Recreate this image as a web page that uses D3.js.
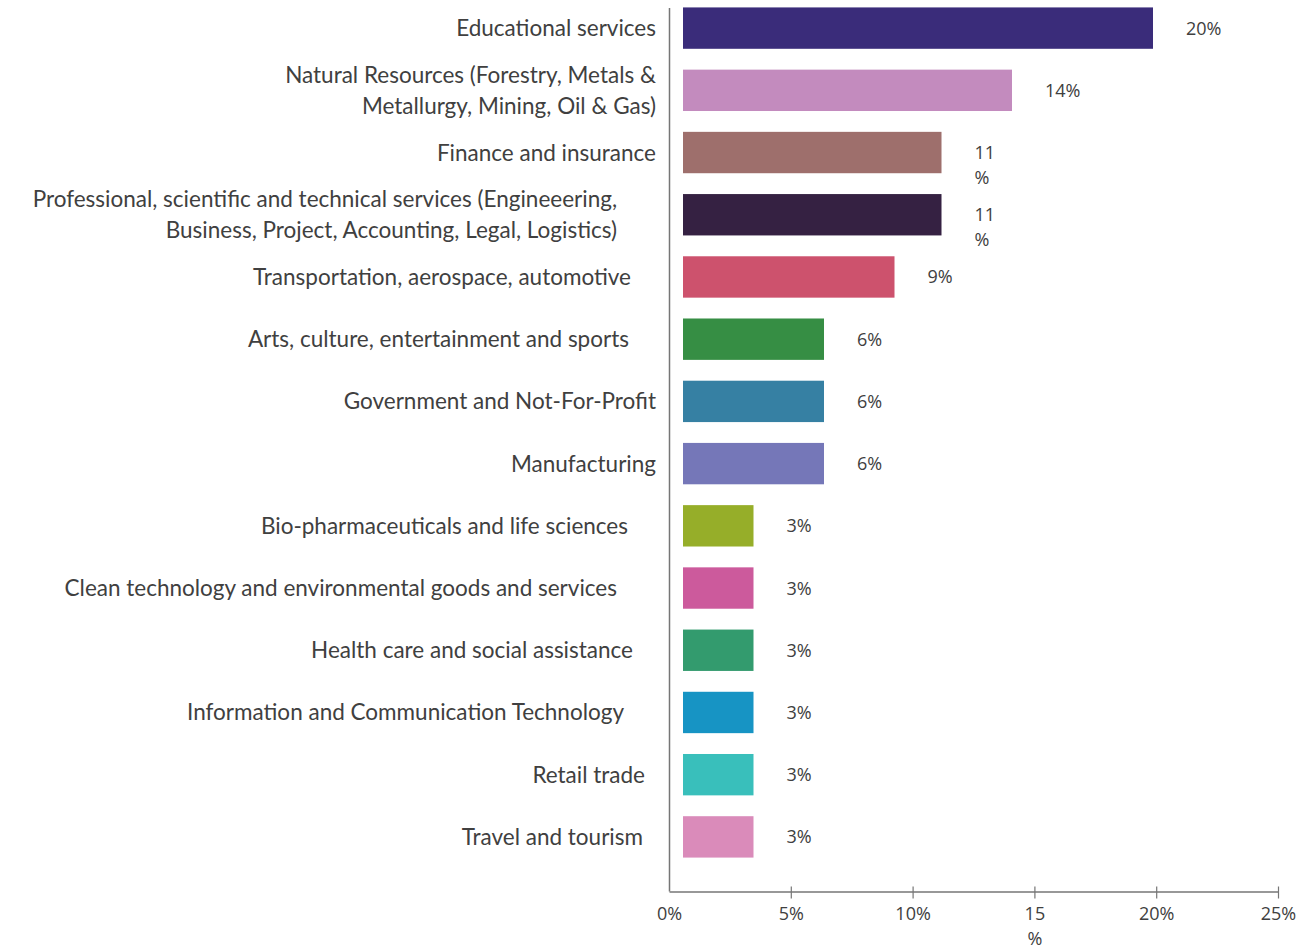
<!DOCTYPE html>
<html>
<head>
<meta charset="utf-8">
<script src="https://cdn.jsdelivr.net/npm/d3@7"></script>
<style>
  html, body { margin: 0; padding: 0; background: #ffffff; }
  svg { display: block; }
</style>
</head>
<body>
<svg id="chart" width="1302" height="951"></svg>
<script>
// Share of respondents by sector
const categories = [
  "Educational services",
  "Natural Resources (Forestry, Metals &\nMetallurgy, Mining, Oil & Gas)",
  "Finance and insurance",
  "Professional, scientific and technical services (Engineeering,\nBusiness, Project, Accounting, Legal, Logistics)",
  "Transportation, aerospace, automotive",
  "Arts, culture, entertainment and sports",
  "Government and Not-For-Profit",
  "Manufacturing",
  "Bio-pharmaceuticals and life sciences",
  "Clean technology and environmental goods and services",
  "Health care and social assistance",
  "Information and Communication Technology",
  "Retail trade",
  "Travel and tourism"
];
const values = [20, 14, 11, 11, 9, 6, 6, 6, 3, 3, 3, 3, 3, 3];
const valueLabels = ["20%", "14%", "11\n%", "11\n%", "9%", "6%", "6%", "6%", "3%", "3%", "3%", "3%", "3%", "3%"];
const barColors = [
  "#3a2c7a", "#c38bbe", "#9e6f6c", "#352142", "#cd526d", "#368e44", "#3680a3",
  "#7577b8", "#96ae29", "#cc5a9c", "#339b6e", "#1794c4", "#39bfbb", "#da8bba"
];
const tickValues = [0, 5, 10, 15, 20, 25];
const tickLabels = ["0%", "5%", "10%", "15\n%", "20%", "25%"];

// layout: how far each category label sits in from the label column's right edge
const labelInset = [0, 0, 0, 39, 25, 27, 0, 0, 28, 39, 23, 32, 11, 13];

const svg = d3.select("#chart");
const textColor = "#404040";
const axisColor = "#767676";
const catFont = "Lato, 'Open Sans', sans-serif";
const numFont = "'Open Sans', 'Noto Sans', sans-serif";

const axisX0 = 669, axisX1 = 1278, axisY = 891.5, axisTop = 8;
const labelRight = 656;

// axis scale and bar-length scale (bars begin a little right of the axis line)
const x = d3.scaleLinear().domain([0, 25]).range([axisX0, axisX1]);
const xb = d3.scaleLinear().domain([0, 25]).range([683, 1270.5]);

const y = d3.scaleBand()
  .domain(d3.range(categories.length))
  .range([-3, 868])
  .paddingInner(0.335)
  .paddingOuter(0.1675);

// bars
svg.append("g").selectAll("rect")
  .data(values)
  .join("rect")
  .attr("x", xb(0))
  .attr("y", (d, i) => y(i))
  .attr("width", d => xb(d) - xb(0))
  .attr("height", y.bandwidth())
  .attr("fill", (d, i) => barColors[i]);

// value labels
const vl = svg.append("g")
  .attr("font-family", numFont)
  .attr("font-size", 18)
  .attr("fill", textColor)
  .selectAll("text")
  .data(values)
  .join("text")
  .attr("x", d => xb(d) + 33)
  .attr("y", (d, i) => y(i) + y.bandwidth() / 2 + 6.5);
vl.each(function (d, i) {
  const lines = valueLabels[i].split("\n");
  d3.select(this).selectAll("tspan")
    .data(lines)
    .join("tspan")
    .attr("x", xb(d) + 33)
    .attr("dy", (l, k) => (k === 0 ? 0 : 25))
    .text(l => l);
});

// category labels
const cl = svg.append("g")
  .attr("font-family", catFont)
  .attr("font-size", 22.5)
  .attr("fill", textColor)
  .attr("text-anchor", "end")
  .selectAll("text")
  .data(categories)
  .join("text")
  .attr("x", (d, i) => labelRight - labelInset[i]);
cl.each(function (d, i) {
  const lines = d.split("\n");
  const lh = 31;
  const cy = y(i) + y.bandwidth() / 2;
  const first = cy - (lines.length - 1) * lh / 2 + 8;
  d3.select(this).attr("y", first);
  d3.select(this).selectAll("tspan")
    .data(lines)
    .join("tspan")
    .attr("x", labelRight - labelInset[i])
    .attr("dy", (l, k) => (k === 0 ? 0 : lh))
    .text(l => l);
});

// vertical axis line
svg.append("line")
  .attr("x1", axisX0 + 0.5).attr("x2", axisX0 + 0.5)
  .attr("y1", axisTop).attr("y2", axisY)
  .attr("stroke", axisColor).attr("stroke-width", 1.5);

// horizontal value axis
const xAxis = d3.axisBottom(x)
  .tickValues(tickValues)
  .tickSizeInner(7)
  .tickSizeOuter(0)
  .tickFormat((d, i) => tickLabels[i]);

const gx = svg.append("g")
  .attr("transform", `translate(0,${axisY})`)
  .call(xAxis);
gx.select(".domain").attr("stroke", axisColor).attr("stroke-width", 1.5);
gx.selectAll(".tick line")
  .attr("y1", -5).attr("y2", 7)
  .attr("stroke", axisColor).attr("stroke-width", 1.2)
  .filter(d => d === 0).remove();
gx.selectAll(".tick text").each(function (d, i) {
  const t = d3.select(this);
  const lines = tickLabels[i].split("\n");
  t.text(null)
    .attr("y", 28.5).attr("dy", null)
    .attr("font-family", numFont)
    .attr("font-size", 18)
    .attr("fill", textColor);
  t.selectAll("tspan")
    .data(lines)
    .join("tspan")
    .attr("x", 0)
    .attr("dy", (l, k) => (k === 0 ? 0 : 25))
    .text(l => l);
});
</script>
</body>
</html>
